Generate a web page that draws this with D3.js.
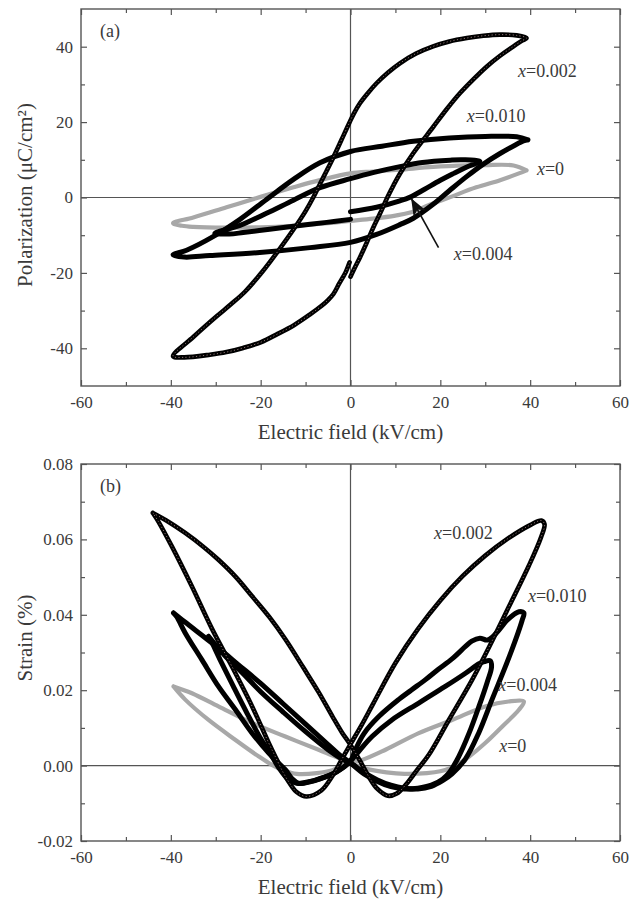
<!DOCTYPE html>
<html>
<head>
<meta charset="utf-8">
<script src="https://cdn.jsdelivr.net/npm/d3@7"></script>
<style>
  body { margin: 0; background: #fff; }
  svg text { font-family: "Liberation Serif", "Times New Roman", serif; }
</style>
</head>
<body>
<svg id="chart" width="636" height="901"></svg>
<script>
// ---- tick values ----
const fieldTicks = [-60, -40, -20, 0, 20, 40, 60];
const fieldMinor = [-50, -30, -10, 10, 30, 50];
const polTicks = [-40, -20, 0, 20, 40];
const polMinor = [-30, -10, 10, 30];
const strainTicks = [-0.02, 0, 0.02, 0.04, 0.06, 0.08];
const strainMinor = [-0.01, 0.01, 0.03, 0.05, 0.07];

// ---- (a) polarization loops, [E kV/cm, P uC/cm2] ----
const polX0 = [[39.2,7.2],[36.3,8.5],[30,8.6],[25.9,8.5],[18.4,8.1],[11,7.4],[5,6.9],[0,6.4],[-6.8,4.6],[-12.7,2.7],[-20.2,0.1],[-27.6,-2.6],[-35,-5.3],[-39.5,-6.8],[-37.5,-7.5],[-35,-7.8],[-27.6,-8],[-20,-7.9],[-12.7,-7.5],[-5,-6.8],[0,-6.2],[5,-5.6],[10,-4.8],[13.3,-4],[17.5,-2],[22.2,0.1],[28,2.7],[33.3,4.6],[37.5,6.4],[39.2,7.2]];
const polX0010 = [[39.5,15.3],[37,16.1],[30,16.2],[22,15.8],[14,14.9],[7,13.6],[0,12.2],[-6.8,9.2],[-12.7,4.8],[-18.7,-0.5],[-24.6,-5.8],[-30.6,-10.4],[-36.5,-14],[-39.5,-15.2],[-37,-15.8],[-31.3,-15.4],[-20.2,-14.6],[-9,-13.3],[0,-11.9],[5.8,-9.8],[11,-7.2],[14,-5.5],[18.4,-1.8],[22,1.8],[25.9,5.6],[29.5,8.8],[33.2,11.6],[36.5,13.8],[38.5,15],[39.5,15.3]];
const polX0004 = [[0,-3.8],[5.8,-2.6],[11,-0.9],[13.3,0.1],[16.5,2.2],[19.9,4.5],[23,6.4],[25.9,8.1],[28.8,9.6],[25,10],[22.2,9.9],[16,9.3],[11,8.2],[5,6.6],[0,5],[-6.8,2.6],[-12.7,-0.7],[-18.7,-4.2],[-24.6,-7.4],[-30.2,-9.5],[-27,-9.7],[-23.9,-9.3],[-18,-8.4],[-12.7,-7.6],[-5.3,-6.6],[0,-5.8]];
const polX0002 = [[0,-21],[1,-18.5],[2.1,-15.9],[3.6,-12],[5.1,-7.9],[6.6,-4.2],[8.2,0],[9.6,3.3],[11,6.3],[14,11.8],[18.4,18.7],[21.4,23.4],[24.4,27.7],[27.4,31.4],[30.3,34.7],[33.3,37.6],[36.3,40.1],[38.2,41.6],[39.2,42.3],[37,43],[33.3,43.2],[29.6,42.9],[25.9,42.3],[22,41.4],[18.4,40.1],[14.6,38.2],[11,35.6],[8.3,33.1],[5.8,30.3],[3.8,27.6],[2.1,25],[0.8,22.4],[-0.3,19.7],[-2,15.3],[-3.8,10.7],[-5.3,7.1],[-6.8,3.6],[-8.3,0],[-10,-3.6],[-12.7,-8.5],[-16,-14],[-19.5,-19.5],[-23.5,-25],[-26.7,-28.4],[-29.8,-31.5],[-35,-37],[-39.5,-42.1],[-37,-42.4],[-31.3,-41.7],[-27.6,-41],[-23.9,-39.9],[-20,-38.4],[-16.4,-36.3],[-12.5,-33.8],[-9,-31],[-6.5,-28.8],[-5,-27.2],[-3.8,-25.6],[-2.5,-22.8],[-1,-19.6],[-0.2,-17.2]];

// ---- (b) strain butterflies, [E kV/cm, S %] ----
const strainX0 = [[-39.4,0.0210],[-35.3,0.0192],[-29.4,0.0157],[-21.9,0.0113],[-14.5,0.0077],[-7.1,0.0042],[-3,0.0022],[0,0.0010],[2,-0.0003],[4,-0.0010],[8,-0.0018],[12,-0.0022],[17,-0.0020],[20,-0.0015],[22.6,-0.0005],[24.5,0.0008],[26.4,0.0024],[30,0.0060],[33.8,0.0104],[37.5,0.0148],[38.6,0.0170],[35.2,0.0170],[30,0.0157],[22.6,0.0121],[15.2,0.0086],[7.8,0.0042],[2.6,0.0015],[0,0.0008],[-2,0.0000],[-4,-0.0012],[-7.5,-0.0020],[-12,-0.0022],[-15,-0.0012],[-17.5,0.0002],[-20.4,0.0024],[-25.6,0.0068],[-31.6,0.0121],[-36.8,0.0175],[-39.4,0.0210]];
const strainX0010 = [[-39.4,0.0405],[-37,0.0382],[-33,0.0345],[-29,0.0308],[-25,0.0268],[-20,0.0218],[-15,0.0164],[-10,0.0110],[-5,0.0056],[-2,0.0024],[0,0.0008],[3,-0.0018],[6,-0.0038],[9,-0.0052],[12,-0.0060],[15,-0.0062],[18,-0.0055],[20.5,-0.0040],[22.6,-0.0022],[25.6,0.0018],[28.6,0.0088],[31.5,0.0175],[34.5,0.0263],[36.7,0.0332],[38.2,0.0385],[38.6,0.0405],[37.5,0.0408],[35,0.0387],[32.5,0.0352],[30.5,0.0333],[28.8,0.0338],[27,0.0330],[25.6,0.0316],[22.6,0.0283],[19.5,0.0255],[16.7,0.0228],[13.5,0.0200],[10.7,0.0175],[6.3,0.0130],[3,0.0085],[1,0.0040],[0,0.0012],[-3,-0.0016],[-6,-0.0032],[-9,-0.0043],[-11.5,-0.0047],[-13,-0.0035],[-14.5,-0.0011],[-16.3,0.0010],[-18.2,0.0033],[-21.9,0.0086],[-25.6,0.0148],[-29.4,0.0210],[-33.1,0.0281],[-36.8,0.0352],[-38.7,0.0395],[-39.4,0.0405]];
const strainX0004 = [[-31.6,0.0343],[-28,0.0292],[-24,0.0245],[-20,0.0196],[-15,0.0142],[-10,0.0090],[-5,0.0042],[-2,0.0018],[0,0.0006],[3,-0.0022],[6,-0.0042],[9,-0.0056],[12,-0.0062],[15,-0.0060],[18,-0.0052],[20.5,-0.0036],[21.9,-0.0020],[24.1,0.0024],[26.4,0.0086],[28.6,0.0157],[30.4,0.0220],[31.4,0.0262],[31.1,0.0278],[29.8,0.0276],[28.6,0.0270],[25.6,0.0245],[21.1,0.0210],[15.2,0.0166],[9.2,0.0121],[4.8,0.0077],[2,0.0040],[0,0.0012],[-3,-0.0016],[-6,-0.0031],[-9,-0.0042],[-12,-0.0047],[-14,-0.0035],[-16,-0.0005],[-18,0.0035],[-20,0.0072],[-23,0.0138],[-26,0.0208],[-29,0.0280],[-31,0.0330],[-31.6,0.0343]];
const strainX0002 = [[-44,0.067],[-41,0.0650],[-36.8,0.0617],[-32.5,0.0578],[-29.4,0.0546],[-25.5,0.0500],[-21.9,0.0449],[-18,0.0393],[-14.5,0.0335],[-10.5,0.0260],[-7.1,0.0195],[-4,0.0130],[-1.9,0.0088],[0,0.0055],[2,0.0015],[4,-0.0028],[6,-0.0062],[8.3,-0.0080],[10.3,-0.0074],[12.5,-0.0048],[14.8,-0.0012],[17.4,0.0028],[21.9,0.0121],[27.1,0.0228],[31.5,0.0330],[35.2,0.0420],[39.7,0.0530],[42.4,0.0605],[43.2,0.0640],[42.5,0.0650],[40,0.0638],[35,0.0602],[30,0.0557],[25,0.0503],[20,0.0438],[15,0.0362],[10,0.0272],[5,0.0163],[2.5,0.0108],[0,0.0057],[-2,0.0015],[-4,-0.0027],[-6.5,-0.0066],[-9.8,-0.0082],[-12,-0.0070],[-13.7,-0.0044],[-15,-0.0018],[-16.5,0.0018],[-18.2,0.0060],[-21.9,0.0157],[-26.4,0.0263],[-30.8,0.0362],[-35.3,0.0475],[-39.8,0.0582],[-42.8,0.0648],[-44,0.067]];

// ---- curve labels (x = ...) and the arrow in (a) ----
const polLabels = [["0.002", 37.3, 32], ["0.010", 25.9, 20], ["0", 41.5, 5.9], ["0.004", 23, -16.5]];
const strainLabels = [["0.002", 18.6, 0.0602], ["0.010", 39.5, 0.0435], ["0.004", 32.9, 0.0198], ["0", 33.1, 0.0036]];
const polArrow = [[19.6, -13.3], [13.6, -0.4]];

const svg = d3.select("#chart");
const axisColor = "#555";
const textColor = "#3a3a3a";

// arrowhead marker
svg.append("defs").append("marker")
  .attr("id", "head")
  .attr("markerUnits", "userSpaceOnUse")
  .attr("viewBox", "0 -7 18 14")
  .attr("refX", 17).attr("refY", 0)
  .attr("markerWidth", 18).attr("markerHeight", 14)
  .attr("orient", "auto")
  .append("path")
  .attr("d", "M0,-7L18,0L0,7L5,0Z")
  .attr("fill", "#111");

function drawPanel(opt) {
  const x = d3.scaleLinear().domain([-60, 60]).range([81, 620]);
  const y = d3.scaleLinear().domain(opt.yDomain).range([opt.bottom, opt.top]);
  const g = svg.append("g");

  // zero cross lines
  g.append("line")
    .attr("x1", x(0)).attr("x2", x(0))
    .attr("y1", opt.top).attr("y2", opt.bottom)
    .attr("stroke", axisColor).attr("stroke-width", 1.2);
  g.append("line")
    .attr("x1", x.range()[0]).attr("x2", x.range()[1])
    .attr("y1", y(0)).attr("y2", y(0))
    .attr("stroke", axisColor).attr("stroke-width", 1.2);

  // curves
  const line = d3.line()
    .x(d => x(d[0]))
    .y(d => y(d[1]))
    .curve(d3.curveCatmullRom.alpha(0.5));

  opt.series.forEach(s => {
    g.append("path")
      .attr("d", line(s.data))
      .attr("fill", "none")
      .attr("stroke", s.color)
      .attr("stroke-width", s.width)
      .attr("stroke-linejoin", "round")
      .attr("stroke-linecap", "round");
    if (s.beads) {
      // light centres of the open circle markers
      g.append("path")
        .attr("d", line(s.data))
        .attr("fill", "none")
        .attr("stroke", "#8c7272")
        .attr("stroke-width", 1)
        .attr("stroke-dasharray", "1.2,2.3");
    }
  });

  // axes, ticks pointing inward
  const styleAxis = a => {
    a.select(".domain").remove();
    a.selectAll("line").attr("stroke", axisColor).attr("stroke-width", 1.2);
    a.selectAll("text").attr("fill", textColor).attr("font-size", 17)
      .attr("font-family", "Liberation Serif, serif");
  };
  g.append("g").attr("transform", `translate(0,${opt.bottom})`)
    .call(d3.axisBottom(x).tickValues(fieldTicks).tickSize(-6).tickPadding(10).tickFormat(d => String(d)))
    .call(styleAxis);
  g.append("g").attr("transform", `translate(0,${opt.bottom})`)
    .call(d3.axisBottom(x).tickValues(fieldMinor).tickSize(-4).tickFormat(""))
    .call(styleAxis);
  g.append("g").attr("transform", `translate(0,${opt.top})`)
    .call(d3.axisTop(x).tickValues(fieldTicks).tickSize(-6).tickFormat(""))
    .call(styleAxis);
  g.append("g").attr("transform", `translate(0,${opt.top})`)
    .call(d3.axisTop(x).tickValues(fieldMinor).tickSize(-4).tickFormat(""))
    .call(styleAxis);
  g.append("g").attr("transform", `translate(${x.range()[0]},0)`)
    .call(d3.axisLeft(y).tickValues(opt.yTicks).tickSize(-6).tickPadding(8).tickFormat(opt.yFormat))
    .call(styleAxis);
  g.append("g").attr("transform", `translate(${x.range()[0]},0)`)
    .call(d3.axisLeft(y).tickValues(opt.yMinor).tickSize(-4).tickFormat(""))
    .call(styleAxis);
  g.append("g").attr("transform", `translate(${x.range()[1]},0)`)
    .call(d3.axisRight(y).tickValues(opt.yTicks).tickSize(-6).tickFormat(""))
    .call(styleAxis);
  g.append("g").attr("transform", `translate(${x.range()[1]},0)`)
    .call(d3.axisRight(y).tickValues(opt.yMinor).tickSize(-4).tickFormat(""))
    .call(styleAxis);

  // frame
  g.append("rect")
    .attr("x", x.range()[0]).attr("y", opt.top)
    .attr("width", x.range()[1] - x.range()[0])
    .attr("height", opt.bottom - opt.top)
    .attr("fill", "none").attr("stroke", axisColor).attr("stroke-width", 1.4);

  // arrow
  if (opt.arrow) {
    g.append("line")
      .attr("x1", x(opt.arrow[0][0])).attr("y1", y(opt.arrow[0][1]))
      .attr("x2", x(opt.arrow[1][0])).attr("y2", y(opt.arrow[1][1]))
      .attr("stroke", "#111").attr("stroke-width", 1.6)
      .attr("marker-end", "url(#head)");
  }

  // curve labels
  opt.labels.forEach(l => {
    const t = g.append("text")
      .attr("x", x(l[1])).attr("y", y(l[2]))
      .attr("font-size", 18).attr("fill", textColor);
    t.append("tspan").attr("font-style", "italic").text("x");
    t.append("tspan").text("=" + l[0]);
  });

  // panel tag
  g.append("text").attr("x", 100).attr("y", opt.top + 28)
    .attr("font-size", 18).attr("fill", textColor).text(opt.tag);

  // axis titles
  g.append("text")
    .attr("x", x(0)).attr("y", opt.bottom + 53)
    .attr("text-anchor", "middle").attr("font-size", 21).attr("fill", textColor)
    .text("Electric field (kV/cm)");
  g.append("text")
    .attr("transform", `translate(32,${opt.titleY}) rotate(-90)`)
    .attr("text-anchor", "middle").attr("font-size", 21).attr("fill", textColor)
    .text(opt.yTitle);
}

drawPanel({
  top: 9, bottom: 386,
  yDomain: [-50, 50],
  yTicks: polTicks, yMinor: polMinor,
  yFormat: d => String(d),
  yTitle: "Polarization (\u03BCC/cm\u00B2)", titleY: 195,
  tag: "(a)",
  series: [
    { data: polX0, color: "#a8a8a8", width: 4.2 },
    { data: polX0010, color: "#000", width: 5 },
    { data: polX0004, color: "#000", width: 5 },
    { data: polX0002, color: "#000", width: 4.6, beads: true }
  ],
  labels: polLabels,
  arrow: polArrow
});

drawPanel({
  top: 464, bottom: 841,
  yDomain: [-0.02, 0.08],
  yTicks: strainTicks, yMinor: strainMinor,
  yFormat: d => d.toFixed(2),
  yTitle: "Strain  (%)", titleY: 638,
  tag: "(b)",
  series: [
    { data: strainX0, color: "#a8a8a8", width: 4.2 },
    { data: strainX0010, color: "#000", width: 5 },
    { data: strainX0004, color: "#000", width: 5 },
    { data: strainX0002, color: "#000", width: 4.6, beads: true }
  ],
  labels: strainLabels
});
</script>
</body>
</html>
